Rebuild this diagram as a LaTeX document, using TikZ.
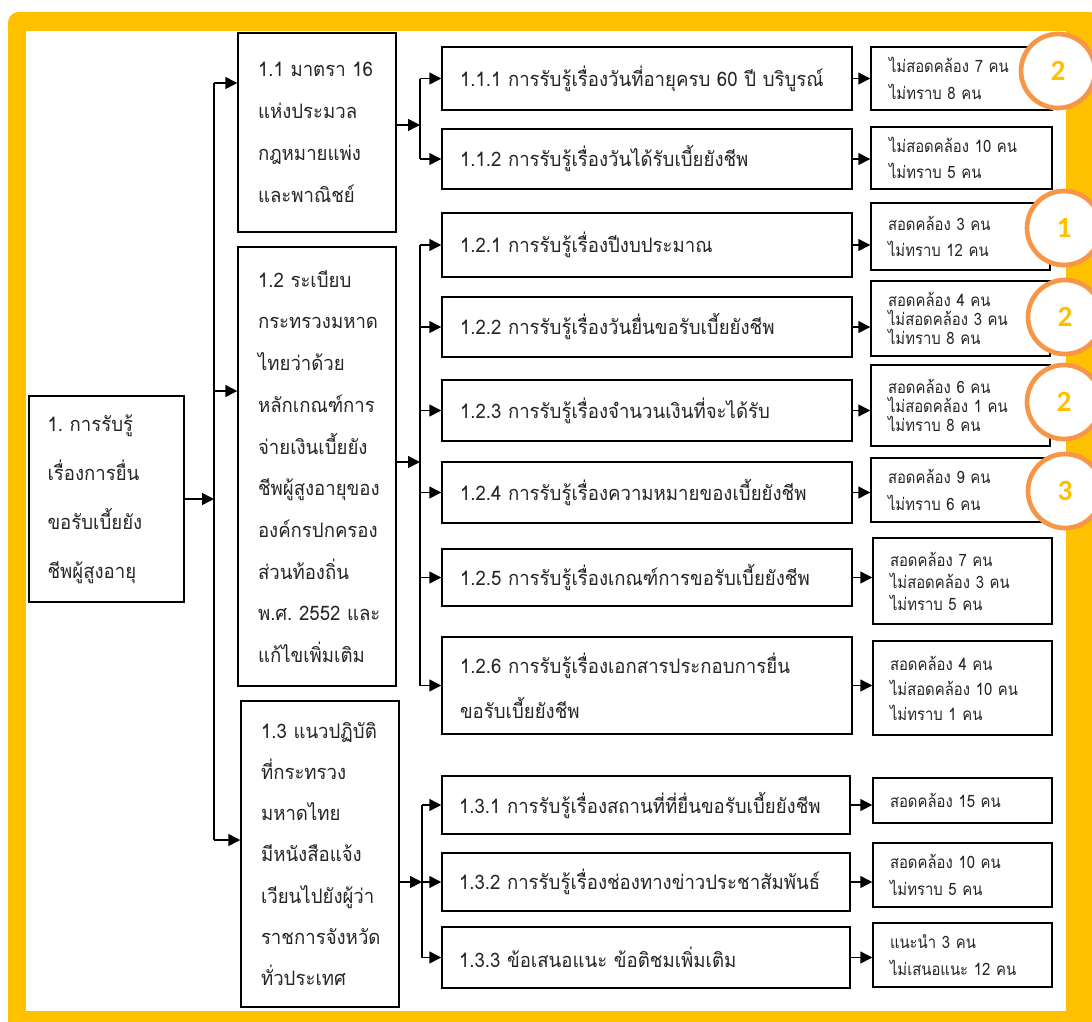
\documentclass[tikz,border=0pt]{standalone}
\usepackage{fontspec}
\usetikzlibrary{arrows.meta}
\newfontfamily\thai[Script=Thai,FakeStretch=0.93]{Loma}
\newfontfamily\thaires[Script=Thai,FakeStretch=0.87]{Loma}
\newfontfamily\numfont{Carlito}
\definecolor{frameY}{HTML}{FFC000}
\definecolor{ringO}{HTML}{F79646}
\definecolor{ink}{HTML}{262626}
\frenchspacing
\tikzset{
  box/.style={draw=black, line width=1.1pt, fill=white, inner sep=0pt, text=ink},
  leftbox/.style={box, minimum width=118.5pt, text width=88.5pt, align=left, font=\thai\fontsize{15}{31.5}\selectfont},
  midbox/.style={box, minimum width=307.5pt, text width=280.5pt, align=left, font=\thai\fontsize{15}{33.5}\selectfont},
  resbox/.style={box, minimum width=135.75pt, text width=108.75pt, align=left, font=\thaires\fontsize{12.8}{20}\selectfont},
  resthree/.style={resbox, font=\thaires\fontsize{12.8}{14.5}\selectfont},
  arr/.style={line width=1.1pt, -{Triangle[length=9pt,width=9pt]}},
  link/.style={line width=1.1pt},
  ring/.style={circle, draw=ringO, line width=3.5pt, fill=white, minimum size=55.5pt, inner sep=0pt, text=frameY, font=\numfont\bfseries\fontsize{22}{22}\selectfont}
}
\begin{document}
\begin{tikzpicture}[x=0.75pt,y=-0.75pt]
\useasboundingbox (0,0) rectangle (1092,1021);
% frame
\fill[frameY, rounded corners=8pt] (8,12) rectangle (1100,1040);
\fill[white] (26,31) rectangle (1066,1011);

% left column
\node[leftbox, minimum width=116.25pt, minimum height=154.5pt, font=\thai\fontsize{15}{36.75}\selectfont] (root) at (106.5,499)
  {1.~การรับรู้\\เรื่องการยื่น\\ขอรับเบี้ยยัง\\ชีพผู้สูงอายุ};
\node[leftbox, minimum height=149.25pt] (n11) at (317,132.5)
  {1.1~มาตรา~16\\แห่งประมวล\\กฎหมายแพ่ง\\และพาณิชย์};
\node[leftbox, minimum height=329.25pt, font=\thai\fontsize{15}{31.3}\selectfont] (n12) at (317,466.5)
  {1.2~ระเบียบ\\กระทรวงมหาด\\ไทยว่าด้วย\\หลักเกณฑ์การ\\จ่ายเงินเบี้ยยัง\\ชีพผู้สูงอายุของ\\องค์กรปกครอง\\ส่วนท้องถิ่น\\พ.ศ.~2552~และ\\แก้ไขเพิ่มเติม};
\node[leftbox, minimum height=229.5pt, font=\thai\fontsize{15}{30.9}\selectfont] (n13) at (320,854)
  {1.3~แนวปฏิบัติ\\ที่กระทรวง\\มหาดไทย\\มีหนังสือแจ้ง\\เวียนไปยังผู้ว่า\\ราชการจังหวัด\\ทั่วประเทศ};

% middle column
\node[midbox, minimum height=47.25pt] (n111) at (647,78.5) {1.1.1 การรับรู้เรื่องวันที่อายุครบ 60 ปี บริบูรณ์};
\node[midbox, minimum height=45pt] (n112) at (647,159) {1.1.2 การรับรู้เรื่องวันได้รับเบี้ยยังชีพ};
\node[midbox, minimum height=48pt] (n121) at (647,245) {1.2.1 การรับรู้เรื่องปีงบประมาณ};
\node[midbox, minimum height=45pt] (n122) at (647,327) {1.2.2 การรับรู้เรื่องวันยื่นขอรับเบี้ยยังชีพ};
\node[midbox, minimum height=45.75pt] (n123) at (647,410.5) {1.2.3 การรับรู้เรื่องจำนวนเงินที่จะได้รับ};
\node[midbox, minimum height=45.75pt] (n124) at (647,492.5) {1.2.4 การรับรู้เรื่องความหมายของเบี้ยยังชีพ};
\node[midbox, minimum height=42.75pt] (n125) at (647,577.5) {1.2.5 การรับรู้เรื่องเกณฑ์การขอรับเบี้ยยังชีพ};
\node[midbox, minimum height=72.75pt] (n126) at (647,685.5) {1.2.6 การรับรู้เรื่องเอกสารประกอบการยื่น\\ขอรับเบี้ยยังชีพ};
\node[midbox, minimum width=306pt, minimum height=43.5pt] (n131) at (646,805) {1.3.1 การรับรู้เรื่องสถานที่ที่ยื่นขอรับเบี้ยยังชีพ};
\node[midbox, minimum width=306pt, minimum height=43.5pt] (n132) at (646,882) {1.3.2 การรับรู้เรื่องช่องทางข่าวประชาสัมพันธ์};
\node[midbox, minimum width=306pt, minimum height=45.75pt] (n133) at (646,957.5) {1.3.3 ข้อเสนอแนะ ข้อติชมเพิ่มเติม};

% result column
\node[resbox, minimum height=47.25pt] (r111) at (961.5,78.5) {ไม่สอดคล้อง~7~คน\\ไม่ทราบ~8~คน};
\node[resbox, minimum height=46.5pt] (r112) at (961.5,158) {ไม่สอดคล้อง~10~คน\\ไม่ทราบ~5~คน};
\node[resbox, minimum width=134.25pt, minimum height=50.25pt] (r121) at (960.5,236.5) {สอดคล้อง~3~คน\\ไม่ทราบ~12~คน};
\node[resthree, minimum width=134.25pt, minimum height=56.25pt] (r122) at (960.5,318.5) {สอดคล้อง~4~คน\\ไม่สอดคล้อง~3~คน\\ไม่ทราบ~8~คน};
\node[resthree, minimum width=134.25pt, minimum height=60.75pt] (r123) at (960.5,405.5) {สอดคล้อง~6~คน\\ไม่สอดคล้อง~1~คน\\ไม่ทราบ~8~คน};
\node[resbox, minimum width=134.25pt, minimum height=48pt] (r124) at (960.5,490) {สอดคล้อง~9~คน\\ไม่ทราบ~6~คน};
\node[resthree, minimum width=134.25pt, minimum height=64.5pt, font=\thaires\fontsize{12.8}{16.5}\selectfont] (r125) at (962.5,581) {สอดคล้อง~7~คน\\ไม่สอดคล้อง~3~คน\\ไม่ทราบ~5~คน};
\node[resthree, minimum width=134.25pt, minimum height=70.5pt, font=\thaires\fontsize{12.8}{18.75}\selectfont] (r126) at (962.5,688) {สอดคล้อง~4~คน\\ไม่สอดคล้อง~10~คน\\ไม่ทราบ~1~คน};
\node[resbox, minimum width=134.25pt, minimum height=33.75pt] (r131) at (962.5,800.5) {สอดคล้อง~15~คน};
\node[resbox, minimum width=134.25pt, minimum height=48pt] (r132) at (962.5,875) {สอดคล้อง~10~คน\\ไม่ทราบ~5~คน};
\node[resbox, minimum width=134.25pt, minimum height=48pt] (r133) at (962.5,955) {แนะนำ~3~คน\\ไม่เสนอแนะ~12~คน};

% spine from root
\coordinate (s1t) at (214,83);
\coordinate (s1m) at (214,391);
\coordinate (s1b) at (214,840);
\draw[link] (s1t) -- (s1b);
\draw[arr] (root.east) -- (root.east -| s1t);
\draw[arr] (s1t) -- (s1t -| n11.west);
\draw[arr] (s1m) -- (s1m -| n12.west);
\draw[arr] (s1b) -- (s1b -| n13.west);

% branch 1.1
\coordinate (b11) at (420,125);
\draw[arr] (b11 -| n11.east) -- (b11);
\draw[link] (n111.west -| b11) -- (n112.west -| b11);
\foreach \n in {n111,n112} \draw[arr] (\n.west -| b11) -- (\n.west);

% branch 1.2
\coordinate (b12) at (420,462);
\draw[arr] (b12 -| n12.east) -- (b12);
\draw[link] (n121.west -| b12) -- (n126.west -| b12);
\foreach \n in {n121,n122,n123,n124,n125,n126} \draw[arr] (\n.west -| b12) -- (\n.west);

% branch 1.3
\coordinate (b13) at (422,882);
\draw[arr] (n132.west -| n13.east) -- (n132.west -| b13);
\draw[link] (n131.west -| b13) -- (n133.west -| b13);
\foreach \n in {n131,n132,n133} \draw[arr] (\n.west -| b13) -- (\n.west);

% to results
\foreach \a/\b in {n111/r111,n112/r112,n121/r121,n122/r122,n123/r123,n124/r124,n125/r125,n126/r126,n131/r131,n132/r132,n133/r133}
  \draw[arr] (\a.east) -- (\a.east -| \b.west);

% rings
\node[ring] (c1) at (1058,71) {2};
\node[ring] (c2) at (1064,228) {1};
\node[ring] (c3) at (1065,317) {2};
\node[ring] (c4) at (1064,402) {2};
\node[ring] (c5) at (1065,491) {3};
\end{tikzpicture}
\end{document}
